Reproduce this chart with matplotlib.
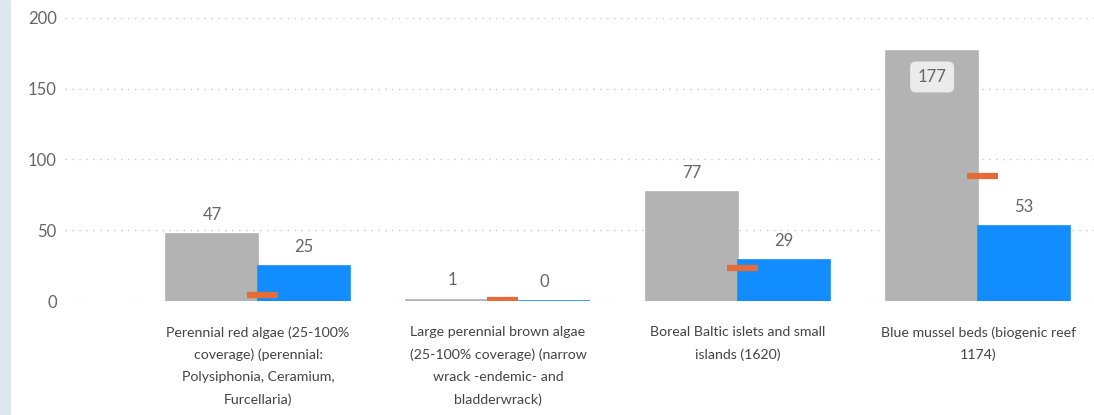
import numpy as np
import matplotlib.pyplot as plt
from matplotlib.patches import Rectangle

plt.rcParams['font.family'] = ['Lato', 'DejaVu Sans']

# Данные
categories = [
    "Perennial red algae (25-100%\ncoverage) (perennial:\nPolysiphonia, Ceramium,\nFurcellaria)",
    "Large perennial brown algae\n(25-100% coverage) (narrow\nwrack -endemic- and\nbladderwrack)",
    "Boreal Baltic islets and small\nislands (1620)",
    "Blue mussel beds (biogenic reef\n1174)",
]
grey_values = [47, 1, 77, 177]
blue_values = [25, 0, 29, 53]
target_values = [4, 1, 23, 88]
y_ticks = [0, 50, 100, 150, 200]

grey = '#b3b3b3'
blue = '#118dff'
orange = '#e66c37'
text_col = '#666666'

fig = plt.figure(figsize=(10.94, 4.15), dpi=100)
fig.patches.append(Rectangle((0, 0), 10 / 1094, 1, transform=fig.transFigure,
                             color='#dde8ec', zorder=0))
ax = fig.add_axes([65 / 1094, 114 / 415, 1 - 65 / 1094, 283 / 415])

x = np.arange(len(categories))
w = 0.383
ax.bar(x - w / 2, grey_values, w, color=grey, edgecolor=grey, linewidth=1.2, zorder=2)
ax.bar(x + w / 2, blue_values, w, color=blue, edgecolor=blue, linewidth=1.2, zorder=2)
ax.hlines(target_values, x - 0.064 + 0.018, x + 0.064 + 0.018, colors=orange,
          linewidth=4.5, zorder=3)

ymax = 200
for xi, v in zip(x - w / 2, grey_values):
    if v > ymax * 0.85:
        ax.annotate(str(v), (xi, v), xytext=(0, -19), textcoords='offset points',
                    ha='center', va='center', fontsize=12, color=text_col, zorder=4,
                    bbox=dict(boxstyle='round,pad=0.45,rounding_size=0.35',
                              fc='#ebebeb', ec='none'))
    else:
        ax.annotate(str(v), (xi, v), xytext=(0, 8), textcoords='offset points',
                    ha='center', va='bottom', fontsize=12, color=text_col)
for xi, v in zip(x + w / 2, blue_values):
    ax.annotate(str(v), (xi, v), xytext=(0, 8), textcoords='offset points',
                ha='center', va='bottom', fontsize=12, color=text_col)

ax.set_xlim(-0.804, 3.483)
ax.set_ylim(0, ymax)
ax.set_yticks(y_ticks)
ax.set_xticks(x)
ax.set_xticklabels(categories, fontsize=10.2, color='#444444', linespacing=1.98)
ax.tick_params(axis='both', length=0, colors=text_col, labelsize=12)
ax.tick_params(axis='x', pad=18, labelcolor='#444444', labelsize=10.2)
ax.tick_params(axis='y', pad=6)
ax.yaxis.grid(True, linestyle=(0, (1, 4)), color='#c8c8c8', linewidth=1, zorder=0)
ax.set_axisbelow(True)
for s in ax.spines.values():
    s.set_visible(False)

fig.savefig('out.png', dpi=100)
